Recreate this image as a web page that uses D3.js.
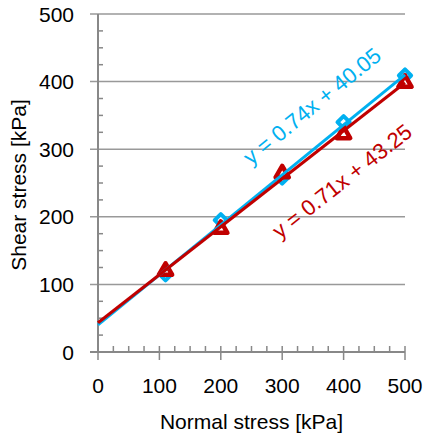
<!DOCTYPE html>
<html>
<head>
<meta charset="utf-8">
<script src="https://cdn.jsdelivr.net/npm/d3@7"></script>
<style>
  body { margin: 0; background: #fff; }
  text { font-family: "Liberation Sans", Arial, sans-serif; fill: #000; }
</style>
</head>
<body>
<svg id="chart" width="425" height="436"></svg>
<script>
// data
const normalStress = [110, 200, 300, 400, 500];
const shearBlue = [115, 195, 258, 340, 409];
const shearRed = [120, 182, 264, 322, 398];
const trendSlopes = [0.74, 0.71];
const trendIntercepts = [40.05, 43.25];
const trendLabels = ["y = 0.74x + 40.05", "y = 0.71x + 43.25"];
const tickValues = [0, 100, 200, 300, 400, 500];
const minorTicks = d3.range(0, 501, 25).filter(v => v % 100 !== 0);

const blue = "#00b0f0";
const red = "#c00000";

const svg = d3.select("#chart");

const x = d3.scaleLinear().domain([0, 500]).range([98, 405]);
const y = d3.scaleLinear().domain([0, 500]).range([352, 14]);

// gridlines
svg.append("g")
    .selectAll("line")
    .data(tickValues.filter(v => v > 0))
    .join("line")
    .attr("x1", x(0) - 8)
    .attr("x2", x(500))
    .attr("y1", d => y(d))
    .attr("y2", d => y(d))
    .attr("stroke", "#999")
    .attr("stroke-width", 1.5);

// y axis
const yAxis = svg.append("g").attr("transform", `translate(${x(0)},0)`);
yAxis.append("line")
    .attr("y1", y(500)).attr("y2", y(0))
    .attr("stroke", "#888").attr("stroke-width", 2);
yAxis.selectAll(".minor")
    .data(minorTicks)
    .join("line")
    .attr("class", "minor")
    .attr("x1", 0).attr("x2", 5)
    .attr("y1", d => y(d)).attr("y2", d => y(d))
    .attr("stroke", "#888").attr("stroke-width", 1.5);
yAxis.selectAll(".lbl")
    .data(tickValues)
    .join("text")
    .attr("class", "lbl")
    .attr("x", -24)
    .attr("y", d => y(d))
    .attr("dy", "0.36em")
    .attr("text-anchor", "end")
    .attr("font-size", 21)
    .text(d => d);

// x axis
const xAxis = svg.append("g").attr("transform", `translate(0,${y(0)})`);
xAxis.append("line")
    .attr("x1", x(0) - 8).attr("x2", x(500))
    .attr("stroke", "#888").attr("stroke-width", 2);
xAxis.selectAll(".major")
    .data(tickValues)
    .join("line")
    .attr("class", "major")
    .attr("x1", d => x(d)).attr("x2", d => x(d))
    .attr("y1", -6).attr("y2", 8)
    .attr("stroke", "#888").attr("stroke-width", 1.5);
xAxis.selectAll(".minor")
    .data(minorTicks)
    .join("line")
    .attr("class", "minor")
    .attr("x1", d => x(d)).attr("x2", d => x(d))
    .attr("y1", -6).attr("y2", 0)
    .attr("stroke", "#888").attr("stroke-width", 1.5);
xAxis.selectAll(".lbl")
    .data(tickValues)
    .join("text")
    .attr("class", "lbl")
    .attr("x", d => x(d))
    .attr("y", 41)
    .attr("text-anchor", "middle")
    .attr("font-size", 21)
    .text(d => d);

// axis titles
svg.append("text")
    .attr("x", (x(0) + x(500)) / 2)
    .attr("y", 429)
    .attr("text-anchor", "middle")
    .attr("font-size", 21)
    .text("Normal stress [kPa]");

svg.append("text")
    .attr("transform", `translate(26,${(y(0) + y(500)) / 2 + 2}) rotate(-90)`)
    .attr("text-anchor", "middle")
    .attr("font-size", 21)
    .text("Shear stress [kPa]");

// markers
const diamond = d3.symbol().type(d3.symbolDiamond2).size(95);
const triangle = d3.symbol().type(d3.symbolTriangle2).size(125);

svg.append("g")
    .selectAll("path")
    .data(normalStress.map((v, i) => [v, shearBlue[i]]))
    .join("path")
    .attr("d", diamond)
    .attr("transform", d => `translate(${x(d[0])},${y(d[1])})`)
    .attr("fill", "#fff")
    .attr("stroke", blue)
    .attr("stroke-width", 4)
    .attr("stroke-linejoin", "round");

svg.append("g")
    .selectAll("path")
    .data(normalStress.map((v, i) => [v, shearRed[i]]))
    .join("path")
    .attr("d", triangle)
    .attr("transform", d => `translate(${x(d[0])},${y(d[1])})`)
    .attr("fill", "#fff")
    .attr("stroke", red)
    .attr("stroke-width", 4.5)
    .attr("stroke-linejoin", "round");

// trendlines
const trendColors = [blue, red];
trendSlopes.forEach((m, i) => {
    const b = trendIntercepts[i];
    svg.append("line")
        .attr("x1", x(0)).attr("y1", y(b))
        .attr("x2", x(500)).attr("y2", y(m * 500 + b))
        .attr("stroke", trendColors[i])
        .attr("stroke-width", 3);
});

// equation labels
const labelPos = [[312, 106], [342, 181]];
trendLabels.forEach((t, i) => {
    const ang = Math.atan((trendSlopes[i] * (y(0) - y(100))) / (x(100) - x(0))) * 180 / Math.PI;
    svg.append("text")
        .attr("transform", `translate(${labelPos[i][0]},${labelPos[i][1]}) rotate(${-ang})`)
        .attr("text-anchor", "middle")
        .attr("dy", "0.35em")
        .attr("font-size", 22)
        .style("fill", trendColors[i])
        .text(t);
});
</script>
</body>
</html>
